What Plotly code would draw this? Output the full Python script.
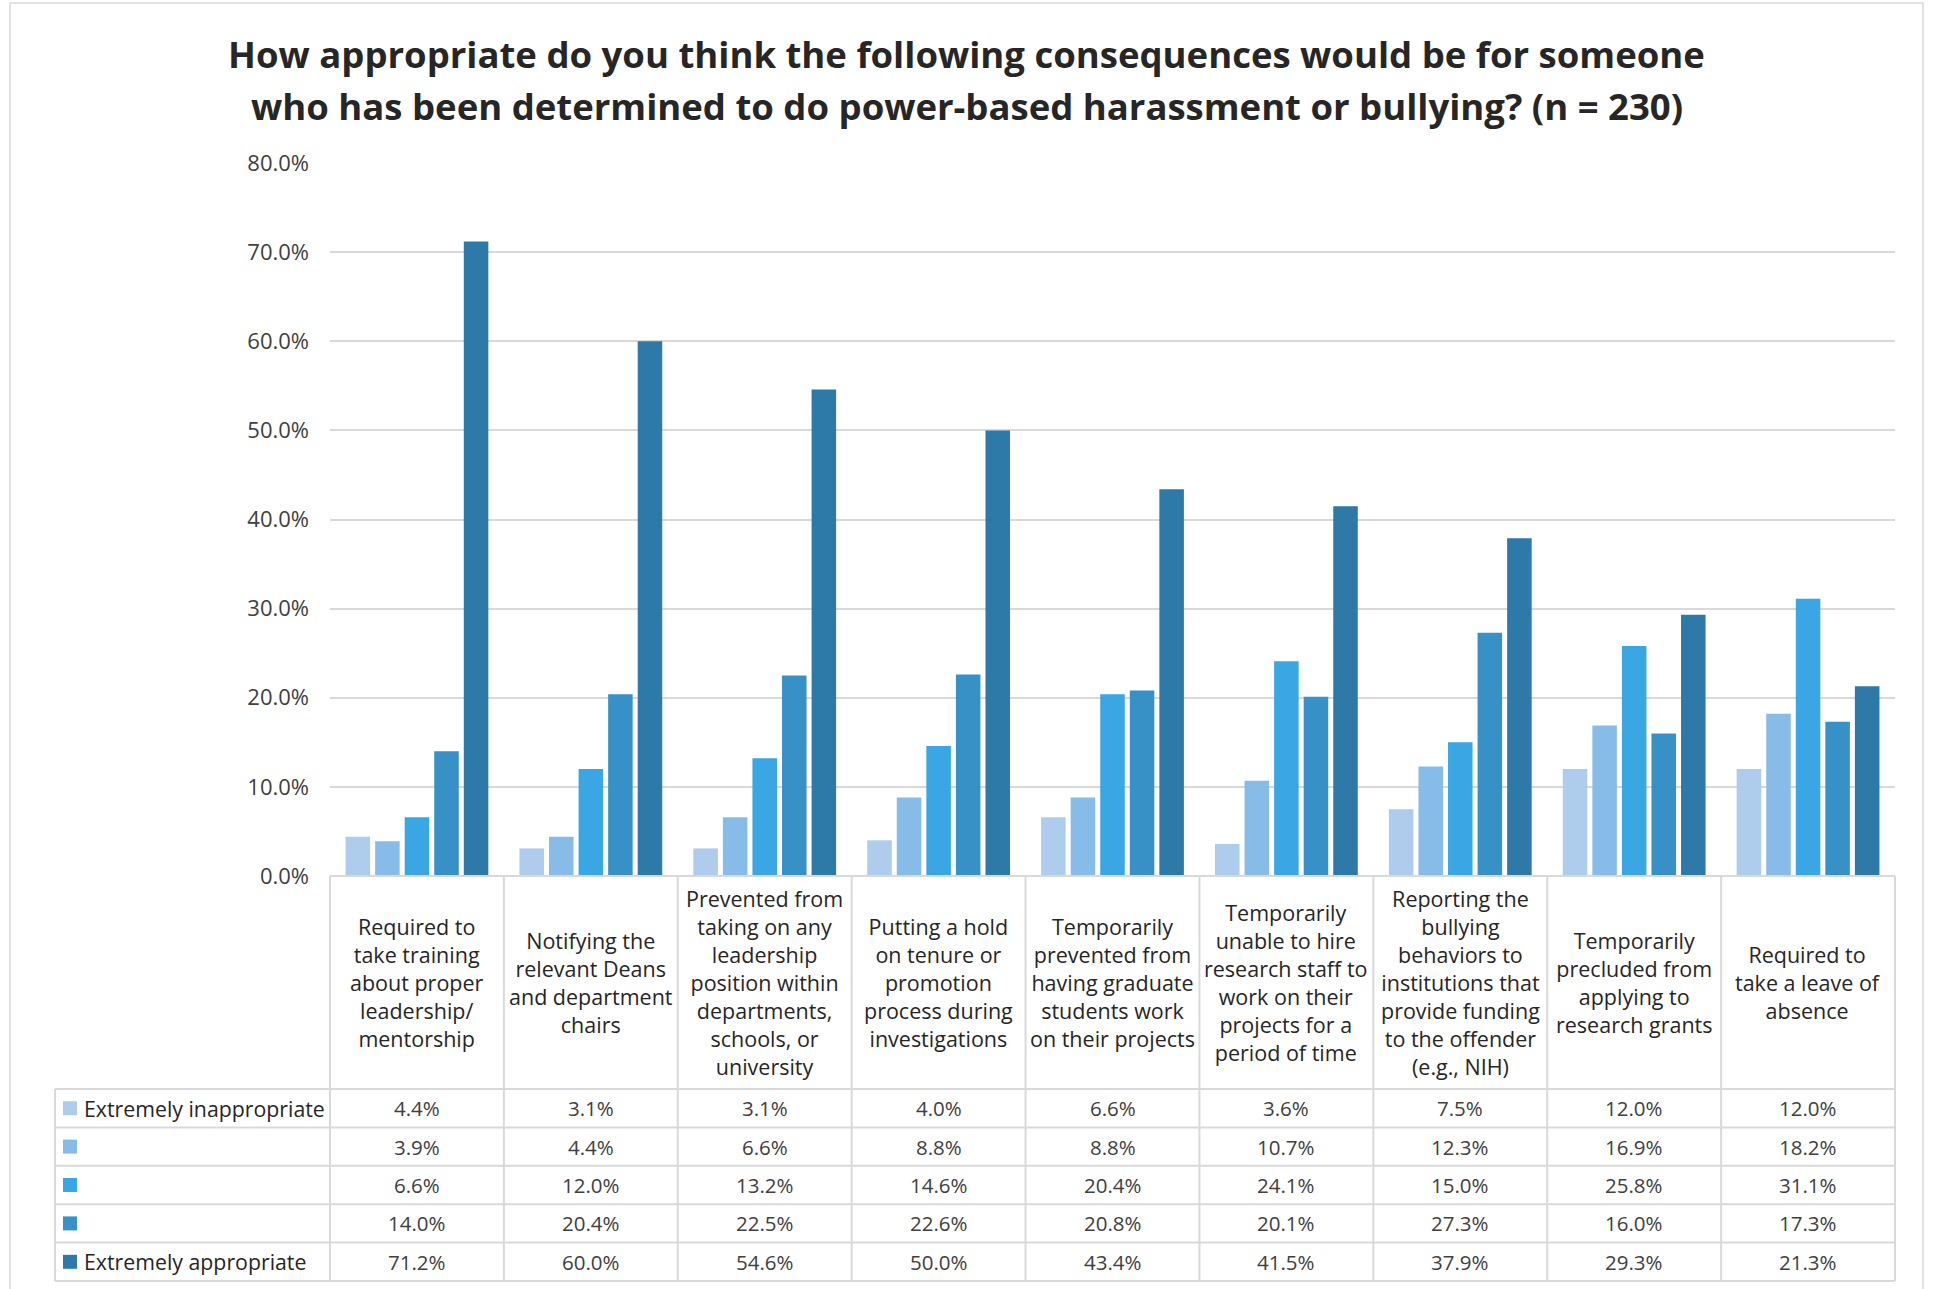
import plotly.graph_objects as go

# Survey question, n = 230
categories = [
    "Required to<br>take training<br>about proper<br>leadership/<br>mentorship",
    "Notifying the<br>relevant Deans<br>and department<br>chairs",
    "Prevented from<br>taking on any<br>leadership<br>position within<br>departments,<br>schools, or<br>university",
    "Putting a hold<br>on tenure or<br>promotion<br>process during<br>investigations",
    "Temporarily<br>prevented from<br>having graduate<br>students work<br>on their projects",
    "Temporarily<br>unable to hire<br>research staff to<br>work on their<br>projects for a<br>period of time",
    "Reporting the<br>bullying<br>behaviors to<br>institutions that<br>provide funding<br>to the offender<br>(e.g., NIH)",
    "Temporarily<br>precluded from<br>applying to<br>research grants",
    "Required to<br>take a leave of<br>absence",
]

series_names = ["Extremely inappropriate", "", "", "", "Extremely appropriate"]

extremely_inappropriate = [4.4, 3.1, 3.1, 4.0, 6.6, 3.6, 7.5, 12.0, 12.0]
level_2 = [3.9, 4.4, 6.6, 8.8, 8.8, 10.7, 12.3, 16.9, 18.2]
level_3 = [6.6, 12.0, 13.2, 14.6, 20.4, 24.1, 15.0, 25.8, 31.1]
level_4 = [14.0, 20.4, 22.5, 22.6, 20.8, 20.1, 27.3, 16.0, 17.3]
extremely_appropriate = [71.2, 60.0, 54.6, 50.0, 43.4, 41.5, 37.9, 29.3, 21.3]

series_values = [extremely_inappropriate, level_2, level_3, level_4, extremely_appropriate]
series_colors = ["#AECDEC", "#88BCE8", "#3AA7E4", "#3791C7", "#2D79A8"]

y_ticks = [0, 10, 20, 30, 40, 50, 60, 70, 80]

title_lines = [
    "How appropriate do you think the following consequences would be for someone",
    "who has been determined to do power-based harassment or bullying? (n = 230)",
]

FONT = "Open Sans"
W, H = 1933, 1289
PL, PR, PT, PB = 330, 1895, 163, 876   # plot area in pixels
GRID = "#D9D9D9"


def px_x(p):
    return (p - PL) / (PR - PL)


def px_y(p):
    return (PB - p) / (PB - PT)


fig = go.Figure()
for name, vals, col in zip(series_names, series_values, series_colors):
    fig.add_trace(go.Bar(
        x=list(range(len(categories))), y=vals, name=name or " ",
        marker=dict(color=col, line=dict(width=0)),
        showlegend=False, hoverinfo="y",
    ))

shapes = []
annotations = []

# two-line heading, centred on the whole canvas
for k, (txt, ypix) in enumerate(zip(title_lines, [54, 106])):
    annotations.append(dict(
        x=px_x(W / 2), xref="paper", y=px_y(ypix), yref="paper", text=f"<b>{txt}</b>",
        showarrow=False, xanchor="center", yanchor="middle",
        font=dict(family=FONT, size=36.5, color="#262626"),
    ))

# data table below the chart
n_cat = len(categories)
header_bottom = 1089
row_h = (1281 - header_bottom) / 5
row_lines = [header_bottom + k * row_h for k in range(6)]
line = dict(color=GRID, width=2)

# vertical column borders
for k in range(n_cat + 1):
    xp = k / n_cat
    shapes.append(dict(type="line", xref="paper", yref="paper",
                       x0=xp, x1=xp, y0=px_y(PB), y1=px_y(1281), line=line))
# left edge of legend column
shapes.append(dict(type="line", xref="paper", yref="paper",
                   x0=px_x(55), x1=px_x(55), y0=px_y(header_bottom), y1=px_y(1281), line=line))
# horizontal row borders
for r in row_lines:
    shapes.append(dict(type="line", xref="paper", yref="paper",
                       x0=px_x(55), x1=1, y0=px_y(r), y1=px_y(r), line=line))
# top of table (under the bars)
shapes.append(dict(type="line", xref="paper", yref="paper",
                   x0=0, x1=1, y0=0, y1=0, line=line))

# outer chart frame
shapes.append(dict(type="rect", xref="paper", yref="paper",
                   x0=px_x(10), x1=px_x(1923), y0=px_y(1300), y1=px_y(3),
                   line=dict(color="#D9D9D9", width=1.5), layer="below"))

# category header labels
for i, cat in enumerate(categories):
    annotations.append(dict(
        x=i, xref="x", y=px_y((PB + header_bottom) / 2), yref="paper",
        text=cat, showarrow=False, xanchor="center", yanchor="middle",
        font=dict(family=FONT, size=21.5, color="#262626"), align="center",
    ))

# table rows: legend key + values
for r, (name, vals, col) in enumerate(zip(series_names, series_values, series_colors)):
    yc = (row_lines[r] + row_lines[r + 1]) / 2
    shapes.append(dict(type="rect", xref="paper", yref="paper",
                       x0=px_x(63), x1=px_x(77), y0=px_y(yc + 7), y1=px_y(yc - 7),
                       fillcolor=col, line=dict(width=0)))
    if name:
        annotations.append(dict(
            x=px_x(82), xref="paper", y=px_y(yc), yref="paper", text=name,
            showarrow=False, xanchor="left", yanchor="middle",
            font=dict(family=FONT, size=21.3, color="#262626"),
        ))
    for i, v in enumerate(vals):
        annotations.append(dict(
            x=i, xref="x", y=px_y(yc), yref="paper", text=f"{v:.1f}%",
            showarrow=False, xanchor="center", yanchor="middle",
            font=dict(family=FONT, size=20.5, color="#404040"),
        ))

fig.update_layout(
    width=W, height=H,
    margin=dict(l=PL, r=W - PR, t=PT, b=H - PB, pad=0),
    paper_bgcolor="white", plot_bgcolor="white",
    barmode="group", bargap=0.15, bargroupgap=0.17,
    xaxis=dict(range=[-0.5, n_cat - 0.5], showticklabels=False, showgrid=False,
               zeroline=False, showline=False, fixedrange=True),
    yaxis=dict(range=[0, 80], tickmode="array", tickvals=y_ticks,
               ticktext=[f"{v:.1f}%" for v in y_ticks],
               showgrid=True, gridcolor=GRID, gridwidth=2, zeroline=False,
               showline=False, ticks="", ticklabelstandoff=20,
               tickfont=dict(family=FONT, size=22, color="#404040")),
    shapes=shapes, annotations=annotations,
    font=dict(family=FONT),
)

fig.write_html("out.html")
